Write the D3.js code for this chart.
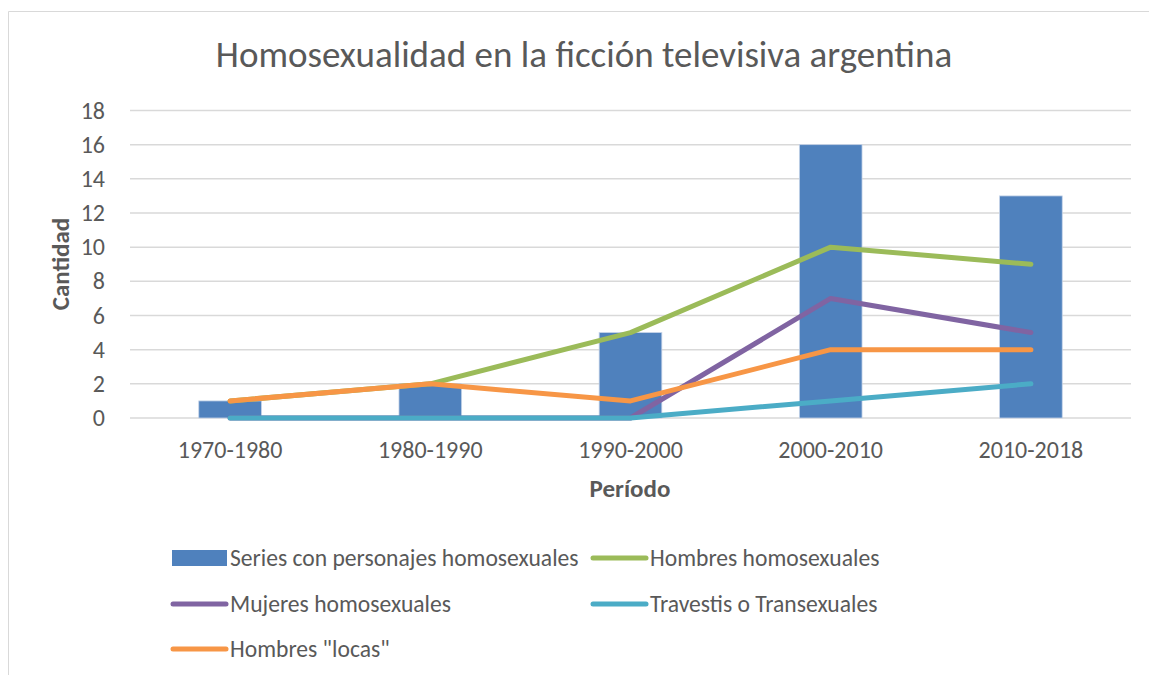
<!DOCTYPE html>
<html>
<head>
<meta charset="utf-8">
<script src="https://cdn.jsdelivr.net/npm/d3@7"></script>
<style>
  body { margin: 0; background: #fff; }
  svg { font-family: Carlito, Calibri, Lato, sans-serif; }
  .grid line { stroke: #d9d9d9; stroke-width: 1.5; }
  .tick-label { fill: #595959; font-size: 24px; }
  .axis-title { fill: #595959; font-size: 25px; font-weight: bold; }
  .legend text { fill: #595959; font-size: 23.6px; }
</style>
</head>
<body>
<div id="chart"></div>
<script>
// data
var periods = ['1970-1980', '1980-1990', '1990-2000', '2000-2010', '2010-2018'];
var series = [1, 2, 5, 16, 13];
var hombres = [1, 2, 5, 10, 9];
var mujeres = [0, 0, 0, 7, 5];
var travestis = [0, 0, 0, 1, 2];
var locas = [1, 2, 1, 4, 4];
var yTicks = [0, 2, 4, 6, 8, 10, 12, 14, 16, 18];

var lines = [
  { name: 'Hombres homosexuales', values: hombres, color: '#9bbb59' },
  { name: 'Mujeres homosexuales', values: mujeres, color: '#8064a2' },
  { name: 'Travestis o Transexuales', values: travestis, color: '#4bacc6' },
  { name: 'Hombres "locas"', values: locas, color: '#f79646' }
];

var width = 1149, height = 675;
var plotLeft = 130, plotRight = 1131, plotTop = 110.5, plotBottom = 418;

var svg = d3.select('#chart').append('svg')
  .attr('width', width)
  .attr('height', height);

// chart border (top and left visible)
svg.append('path')
  .attr('d', 'M8.5,675 L8.5,11.5 L1149,11.5')
  .attr('fill', 'none')
  .attr('stroke', '#d9d9d9')
  .attr('stroke-width', 1);

var x = d3.scaleBand().domain(periods).range([plotLeft, plotRight]);
var y = d3.scaleLinear().domain([0, 18]).range([plotBottom, plotTop]);

// title
svg.append('text')
  .attr('x', 584)
  .attr('y', 67)
  .attr('text-anchor', 'middle')
  .attr('fill', '#595959')
  .style('font-size', '37px')
  .text('Homosexualidad en la ficción televisiva argentina');

// gridlines
svg.append('g').attr('class', 'grid')
  .selectAll('line')
  .data(yTicks).enter()
  .append('line')
  .attr('x1', plotLeft)
  .attr('x2', plotRight)
  .attr('y1', function (d) { return y(d); })
  .attr('y2', function (d) { return y(d); });

// y tick labels
svg.selectAll('.ylab')
  .data(yTicks).enter()
  .append('text')
  .attr('class', 'tick-label ylab')
  .attr('x', 105)
  .attr('y', function (d) { return y(d) + 8; })
  .attr('text-anchor', 'end')
  .text(function (d) { return d; });

// x tick labels
svg.selectAll('.xlab')
  .data(periods).enter()
  .append('text')
  .attr('class', 'tick-label xlab')
  .attr('x', function (d) { return x(d) + x.bandwidth() / 2; })
  .attr('y', 458)
  .attr('text-anchor', 'middle')
  .text(function (d) { return d; });

// bars
var barW = x.bandwidth() * 0.313;
svg.selectAll('.bar')
  .data(series).enter()
  .append('rect')
  .attr('class', 'bar')
  .attr('x', function (d, i) { return x(periods[i]) + x.bandwidth() / 2 - barW / 2; })
  .attr('y', function (d) { return y(d); })
  .attr('width', barW)
  .attr('height', function (d) { return y(0) - y(d); })
  .attr('fill', '#4f81bd')
  .attr('stroke', '#c5d3e8')
  .attr('stroke-width', 0.8);

// lines
var line = d3.line()
  .x(function (d, i) { return x(periods[i]) + x.bandwidth() / 2; })
  .y(function (d) { return y(d); });

svg.selectAll('.series-line')
  .data(lines).enter()
  .append('path')
  .attr('class', 'series-line')
  .attr('d', function (d) { return line(d.values); })
  .attr('fill', 'none')
  .attr('stroke', function (d) { return d.color; })
  .attr('stroke-width', 5)
  .attr('stroke-linecap', 'round')
  .attr('stroke-linejoin', 'round');

// axis titles
svg.append('text')
  .attr('class', 'axis-title')
  .attr('x', 630)
  .attr('y', 497)
  .attr('text-anchor', 'middle')
  .text('Período');

svg.append('text')
  .attr('class', 'axis-title')
  .attr('transform', 'translate(69,264) rotate(-90)')
  .attr('text-anchor', 'middle')
  .text('Cantidad');

// legend
var legendItems = [
  { name: 'Series con personajes homosexuales', color: '#4f81bd', bar: true, x: 172, y: 558 },
  { name: lines[0].name, color: lines[0].color, x: 592, y: 558 },
  { name: lines[1].name, color: lines[1].color, x: 172, y: 604 },
  { name: lines[2].name, color: lines[2].color, x: 592, y: 604 },
  { name: lines[3].name, color: lines[3].color, x: 172, y: 649 }
];

var lg = svg.selectAll('.legend')
  .data(legendItems).enter()
  .append('g')
  .attr('class', 'legend')
  .attr('transform', function (d) { return 'translate(' + d.x + ',' + d.y + ')'; });

lg.filter(function (d) { return d.bar; })
  .append('rect')
  .attr('x', 0)
  .attr('y', -8)
  .attr('width', 55)
  .attr('height', 16)
  .attr('fill', function (d) { return d.color; });

lg.filter(function (d) { return !d.bar; })
  .append('line')
  .attr('x1', 1)
  .attr('x2', 54)
  .attr('y1', 0)
  .attr('y2', 0)
  .attr('stroke', function (d) { return d.color; })
  .attr('stroke-width', 5)
  .attr('stroke-linecap', 'round');

lg.append('text')
  .attr('x', 58)
  .attr('y', 8)
  .text(function (d) { return d.name; });
</script>
</body>
</html>
